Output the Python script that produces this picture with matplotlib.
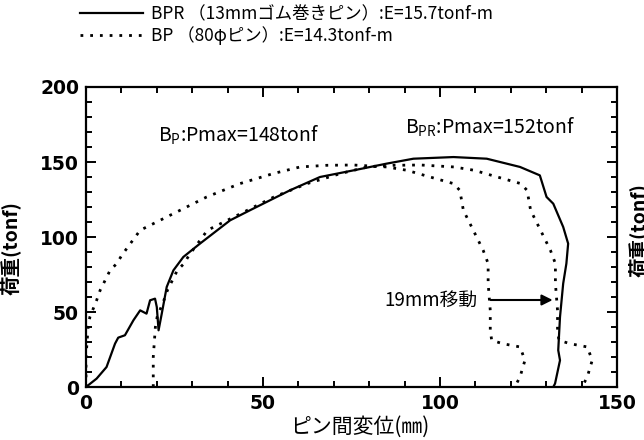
import matplotlib
matplotlib.use('Agg')
import matplotlib.pyplot as plt
from matplotlib.ticker import MultipleLocator

plt.rcParams['font.family'] = ['Noto Sans CJK JP', 'DejaVu Sans']

# BPR (13mm rubber pin), solid line
bpr_x = [0, 3.0, 5.8, 8.2, 9.1, 11.0, 13.4, 15.3, 17.1, 18.1, 19.5, 20.0, 20.5, 21.4, 22.8,
         24.7, 27.5, 32.2, 40.7, 46.3, 57.6, 66.1, 75.5, 84.9, 92.5, 103.8, 113.2, 122.6,
         128.2, 130.1, 132.0, 134.8, 136.2, 135.7, 134.8, 133.9, 133.4, 133.9, 132.5, 132.0]
bpr_y = [0, 5.6, 13.3, 28.9, 32.9, 34.5, 44.5, 51.1, 48.9, 57.8, 58.9, 53.3, 37.8, 48.9, 66.7,
         77.8, 86.7, 95.6, 111.1, 117.8, 131.1, 140.0, 144.4, 148.9, 152.2, 153.3, 152.2, 146.7,
         141.1, 126.7, 122.2, 106.7, 95.6, 82.3, 69.0, 46.7, 24.5, 17.8, 2.3, 0]

# BP (80 phi pin), dotted line
bp_x = [0, 0, 0.6, 1.1, 3.0, 4.0, 5.4, 6.8, 8.7, 10.1, 15.3, 24.7, 34.1, 43.5, 52.9, 60.5,
        68.0, 75.5, 84.9, 90.6, 97.2, 103.8, 105.6, 106.6, 109.4, 112.2, 113.6, 113.6, 114.2,
        114.2, 114.6, 117.7, 122.6, 124.0, 122.6, 121.6, 121.3]
bp_y = [0, 20, 40, 46.7, 57.8, 64.5, 71.1, 77.8, 82.3, 87.8, 104.5, 115.6, 126.7, 135.6, 142.3,
        146.7, 147.8, 148.0, 146.7, 144.5, 140.0, 135.6, 131.1, 117.8, 104.5, 91.1, 82.3, 68.9,
        51.1, 37.8, 31.1, 28.9, 26.7, 17.8, 6.7, 2.2, 0]
shift = 19  # 19mm移動

label_bpr = 'BPR （13mmゴム巻きピン）:E=15.7tonf-m'
label_bp = 'BP （80φピン）:E=14.3tonf-m'

fig = plt.figure(figsize=(6.44, 4.40), dpi=100)
ax = fig.add_axes([86 / 644, 53 / 440, 531 / 644, 300 / 440])

dots = (0, (1, 2.5))
l1, = ax.plot(bpr_x, bpr_y, 'k-', lw=1.6, label=label_bpr)
l2, = ax.plot(bp_x, bp_y, color='k', lw=2.0, linestyle=dots, label=label_bp)
ax.plot([x + shift for x in bp_x], bp_y, color='k', lw=2.0, linestyle=dots)

ax.set_xlim(0, 150)
ax.set_ylim(0, 200)
ax.xaxis.set_major_locator(MultipleLocator(50))
ax.xaxis.set_minor_locator(MultipleLocator(10))
ax.yaxis.set_major_locator(MultipleLocator(50))
ax.yaxis.set_minor_locator(MultipleLocator(10))
ax.tick_params(which='both', direction='in', top=True, right=True, width=1.4)
ax.tick_params(which='major', length=7, pad=5)
ax.tick_params(which='minor', length=4.5)
for s in ax.spines.values():
    s.set_linewidth(1.6)
for lab in ax.get_xticklabels() + ax.get_yticklabels():
    lab.set_family('DejaVu Sans')
    lab.set_fontweight('heavy')
    lab.set_fontsize(13.5)

ax.set_xlabel('ピン間変位(㎜)', fontsize=15)
ax.xaxis.set_label_coords(0.516, -0.095)
ax.set_ylabel('荷重(tonf)', fontsize=14, fontweight='bold')
ax.yaxis.set_label_coords(-0.124, 0.463)
# 右侧被裁掉的轴标签
fig.text(0.975, 0.477, '荷重(tonf)', rotation=90, ha='left', va='center',
         fontsize=14, fontweight='bold')

# 注释
ax.text(20.3, 168, r'$\mathregular{B_P}$:Pmax=148tonf', fontsize=14, va='center')
ax.text(90.0, 173, r'$\mathregular{B_{PR}}$:Pmax=152tonf', fontsize=14, va='center')
ax.annotate('', xy=(132.6, 58), xytext=(113.5, 58),
            arrowprops=dict(arrowstyle='-|>', color='k', lw=1.5, mutation_scale=16))
ax.text(110.5, 58, '19mm移動', fontsize=13.5, ha='right', va='center')

fig.legend(handles=[l1, l2], loc='upper left', bbox_to_anchor=(80 / 644, 1 - 5.5 / 440),
           frameon=False, fontsize=12.5, handlelength=3.6, handletextpad=0.5,
           labelspacing=0.14, borderpad=0, borderaxespad=0)

plt.savefig('out.png', dpi=100)
